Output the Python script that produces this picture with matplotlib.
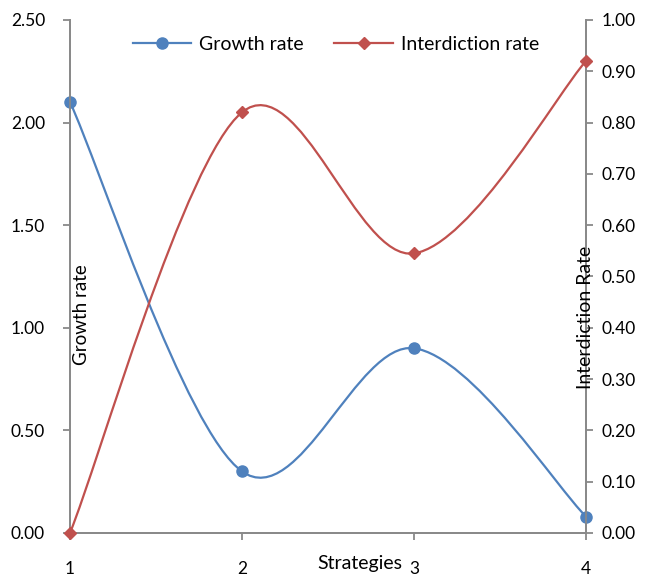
import numpy as np
import matplotlib.pyplot as plt
from matplotlib.path import Path
from matplotlib.patches import PathPatch
from matplotlib.lines import Line2D

plt.rcParams['font.family'] = ['Lato', 'DejaVu Sans']

strategies = [1, 2, 3, 4]
growth_rate = [2.10, 0.30, 0.90, 0.08]
interdiction_rate = [0.00, 0.82, 0.545, 0.92]

blue = '#4F81BD'
red = '#C0504D'
grey = '#898989'


def smooth_path(xs, ys):
    # excel style smoothed line: cubic bezier, control points from neighbours
    xs = np.asarray(xs, float)
    ys = np.asarray(ys, float)
    n = len(xs)
    verts = [(xs[0], ys[0])]
    codes = [Path.MOVETO]
    for i in range(n - 1):
        p0 = max(i - 1, 0)
        p3 = min(i + 2, n - 1)
        c1 = (xs[i] + (xs[i + 1] - xs[p0]) / 6, ys[i] + (ys[i + 1] - ys[p0]) / 6)
        c2 = (xs[i + 1] - (xs[p3] - xs[i]) / 6, ys[i + 1] - (ys[p3] - ys[i]) / 6)
        verts += [c1, c2, (xs[i + 1], ys[i + 1])]
        codes += [Path.CURVE4] * 3
    return Path(verts, codes)


fig = plt.figure(figsize=(6.51, 5.78), dpi=100)
ax = fig.add_axes([0.1075, 0.078, 0.7926, 0.8874])
ax2 = ax.twinx()

ax.add_patch(PathPatch(smooth_path(strategies, growth_rate), fill=False,
                       edgecolor=blue, lw=1.6, zorder=3))
ax.plot(strategies, growth_rate, 'o', color=blue, ms=8, zorder=4, clip_on=False)
ax2.add_patch(PathPatch(smooth_path(strategies, interdiction_rate), fill=False,
                        edgecolor=red, lw=1.6, zorder=3))
ax2.plot(strategies, interdiction_rate, 'D', color=red, ms=6.5, zorder=4, clip_on=False)

ax.set_xlim(1, 4)
ax.set_ylim(0, 2.5)
ax2.set_ylim(0, 1.0)
ax.set_xticks(strategies)
ax.set_yticks(np.arange(0, 2.51, 0.5))
ax2.set_yticks(np.arange(0, 1.01, 0.1))
ax.yaxis.set_major_formatter(plt.FormatStrFormatter('%.2f'))
ax2.yaxis.set_major_formatter(plt.FormatStrFormatter('%.2f'))

for a in (ax, ax2):
    for s in a.spines.values():
        s.set_color(grey)
        s.set_linewidth(1.3)
    a.spines['top'].set_visible(False)
    a.tick_params(colors=grey, labelcolor='black', labelsize=12.5, length=5, width=1.3)
ax.tick_params(axis='x', pad=15)
ax.tick_params(axis='y', pad=13)
ax2.tick_params(axis='y', pad=6)

ax.text(0.023, 0.425, 'Growth rate', rotation=90, ha='center', va='center',
        fontsize=13.5, transform=ax.transAxes)
ax2.text(1.0, 0.42, 'Interdiction Rate', rotation=90, ha='center', va='center',
         fontsize=14, transform=ax2.transAxes)
fig.text(0.553, 0.01, 'Strategies', ha='center', va='bottom', fontsize=14)

handles = [Line2D([], [], color=blue, lw=1.6, marker='o', ms=8),
           Line2D([], [], color=red, lw=1.6, marker='D', ms=6.5)]
ax.legend(handles, ['Growth rate', 'Interdiction rate'], loc='center',
          bbox_to_anchor=(0.515, 0.953), ncol=2, frameon=False, fontsize=14,
          handlelength=3.0, columnspacing=1.6, handletextpad=0.4)

fig.savefig('out.png', dpi=100)
